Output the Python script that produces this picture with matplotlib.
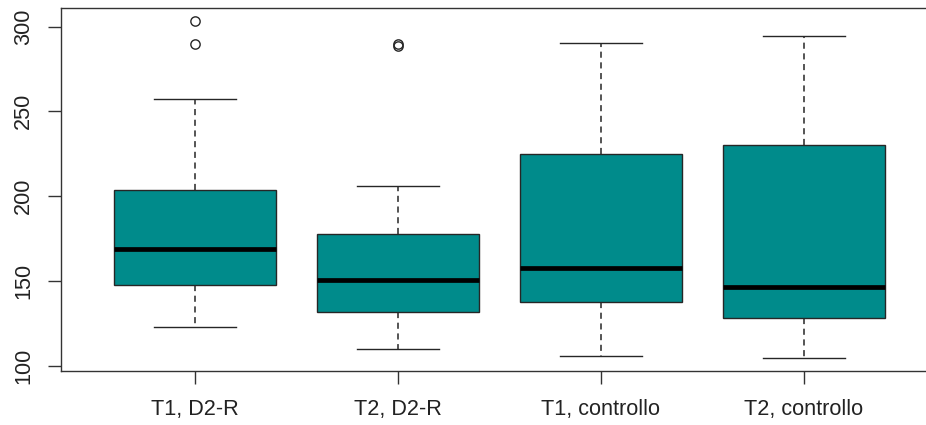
"""Boxplot of four groups, R base-graphics style"""

import matplotlib
matplotlib.use("Agg")
import matplotlib.pyplot as plt

# Group labels and five-number summaries
labels = ["T1, D2-R", "T2, D2-R", "T1, controllo", "T2, controllo"]
whisker_low = [122.8, 109.9, 105.7, 104.9]
q1 = [147.8, 131.7, 137.4, 128.5]
median = [169.1, 150.6, 157.7, 146.4]
q3 = [203.9, 177.9, 225.1, 230.3]
whisker_high = [257.2, 205.9, 290.5, 294.4]
outliers = [[289.5, 303.2], [288.3, 289.8], [], []]

yticks = [100, 150, 200, 250, 300]


def main():
    plt.rcParams["font.family"] = ["Liberation Sans", "DejaVu Sans"]

    fig = plt.figure(figsize=(9.26, 4.25), dpi=100)
    ax = fig.add_axes([0.0659, 0.127, 0.947, 0.855])

    stats = []
    for i, lab in enumerate(labels):
        stats.append(dict(label=lab, whislo=whisker_low[i], q1=q1[i], med=median[i],
                          q3=q3[i], whishi=whisker_high[i], fliers=outliers[i]))

    ax.bxp(stats, positions=range(1, len(labels) + 1), widths=0.8, patch_artist=True,
           boxprops=dict(facecolor="#008B8B", edgecolor="#262626", linewidth=1.0),
           medianprops=dict(color="black", linewidth=3.4, solid_capstyle="butt"),
           whiskerprops=dict(color="#262626", linewidth=1.1, linestyle=(0, (4, 3))),
           capprops=dict(color="#262626", linewidth=1.0),
           capwidths=0.4,
           flierprops=dict(marker="o", markerfacecolor="none", markeredgecolor="#262626",
                           markersize=6.7, markeredgewidth=1.0))

    # R-style limits: 4% extension
    lo = min(whisker_low)
    hi = max(max(o) for o in outliers if o)
    ext = (hi - lo) * 0.04
    ax.set_ylim(lo - ext, hi + ext)
    ax.set_xlim(0.5 - 0.16, len(labels) + 0.5 + 0.16)

    ax.set_yticks(yticks)
    ax.set_yticklabels([str(t) for t in yticks], rotation=90, va="center")
    ax.set_xticks(range(1, len(labels) + 1))
    ax.set_xticklabels(labels)

    ax.tick_params(axis="both", length=9.5, width=1.0, color="#333333",
                   labelsize=15.6, labelcolor="#222222")
    ax.tick_params(axis="x", pad=11)
    ax.tick_params(axis="y", pad=10)
    for sp in ax.spines.values():
        sp.set_color("#333333")
        sp.set_linewidth(1.0)
    # the plot frame runs past the right edge of the picture
    ax.spines["right"].set_visible(False)

    fig.savefig("out.png", dpi=100)


if __name__ == "__main__":
    main()
